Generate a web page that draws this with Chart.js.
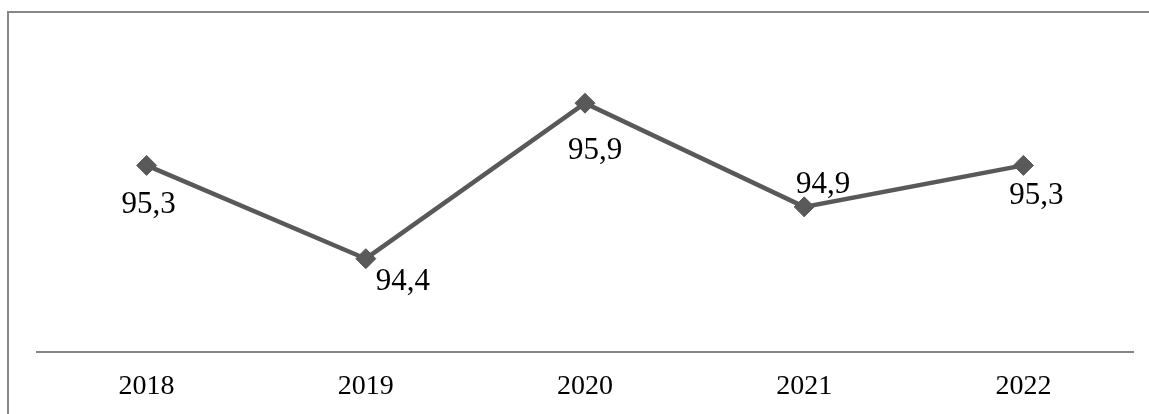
<!DOCTYPE html>
<html>
<head>
<meta charset="utf-8">
<script src="https://cdn.jsdelivr.net/npm/chart.js@4"></script>
<style>
  html, body { margin: 0; padding: 0; background: #ffffff; }
  #wrap { position: relative; width: 1149px; height: 414px; overflow: hidden; }
  #frame { position: absolute; left: 7px; top: 11px; width: 1200px; height: 500px;
           border-top: 2px solid #888888; border-left: 2px solid #888888; box-sizing: border-box; }
  canvas { position: absolute; left: 0; top: 0; }
</style>
</head>
<body>
<div id="wrap">
  <div id="frame"></div>
  <canvas id="c" width="1149" height="414"></canvas>
</div>
<script>
const categories = ['2018', '2019', '2020', '2021', '2022'];
const values = [95.3, 94.4, 95.9, 94.9, 95.3];
const valueLabels = ['95,3', '94,4', '95,9', '94,9', '95,3'];

const labelPlugin = {
  id: 'pointLabels',
  afterDatasetsDraw(chart, args, opts) {
    const ctx = chart.ctx;
    const meta = chart.getDatasetMeta(0);
    ctx.save();
    ctx.font = opts.font;
    ctx.fillStyle = opts.color;
    ctx.textAlign = 'center';
    ctx.textBaseline = 'middle';
    meta.data.forEach((pt, i) => {
      const off = opts.offsets[i];
      ctx.fillText(valueLabels[i], pt.x + off[0], pt.y + off[1]);
    });
    ctx.restore();
  }
};

new Chart(document.getElementById('c'), {
  type: 'line',
  data: {
    labels: categories,
    datasets: [{
      data: values,
      borderColor: '#595959',
      borderWidth: 4.5,
      pointStyle: 'rectRot',
      pointRadius: 10,
      pointBackgroundColor: '#595959',
      pointBorderColor: '#595959',
      pointBorderWidth: 1,
      tension: 0,
      clip: false
    }]
  },
  options: {
    responsive: false,
    animation: false,
    devicePixelRatio: 1,
    layout: { padding: { left: 37, right: 16, top: 41, bottom: 11.4 } },
    plugins: {
      legend: { display: false },
      tooltip: { enabled: false },
      pointLabels: {
        font: '31px "Liberation Serif"',
        color: '#000000',
        offsets: [[2, 39], [37, 23], [10, 48], [19, -22], [13, 30]]
      }
    },
    scales: {
      x: {
        offset: true,
        grid: { display: false, drawTicks: false },
        border: { display: true, color: '#868686', width: 2 },
        ticks: {
          color: '#000000',
          font: { family: 'Liberation Serif', size: 28 },
          padding: 18,
          maxRotation: 0,
          autoSkip: false
        },
        afterFit(axis) { axis.height = 50.6; }
      },
      y: {
        display: false,
        min: 93.5,
        max: 96.5
      }
    }
  },
  plugins: [labelPlugin]
});
</script>
</body>
</html>
